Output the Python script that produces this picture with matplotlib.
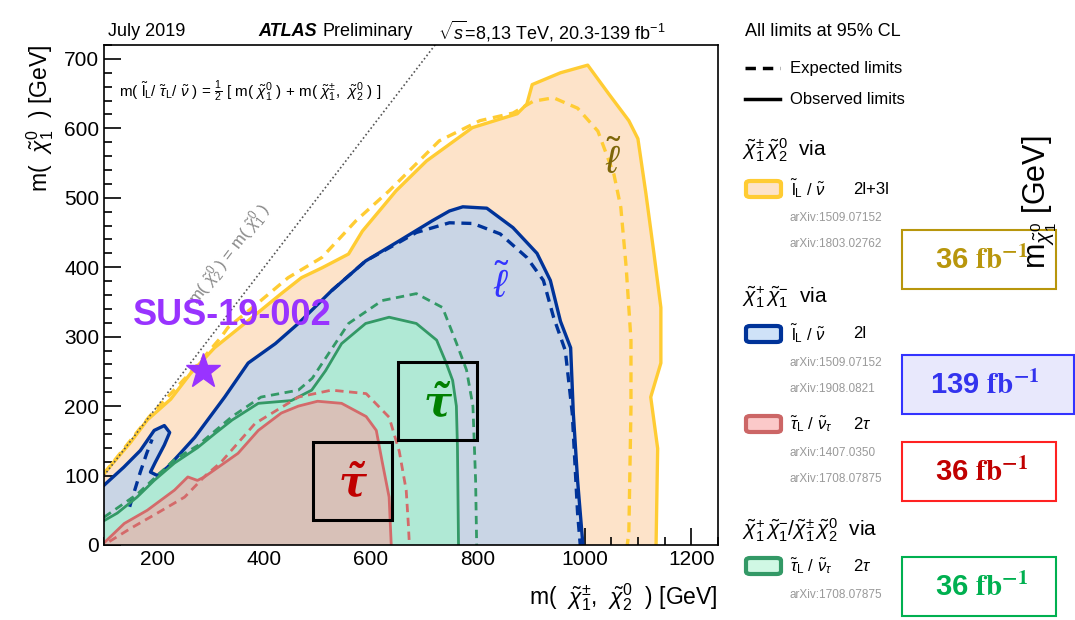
import numpy as np
import matplotlib
matplotlib.use("Agg")
import matplotlib.pyplot as plt
from matplotlib.patches import Rectangle, FancyBboxPatch
from matplotlib.lines import Line2D

plt.rcParams['font.family'] = ['Liberation Sans', 'DejaVu Sans']
plt.rcParams['mathtext.fontset'] = 'custom'
plt.rcParams['mathtext.rm'] = 'Liberation Sans'
plt.rcParams['mathtext.it'] = 'Liberation Sans:italic'
plt.rcParams['mathtext.bf'] = 'Liberation Sans:bold'

# ---- contour data, m(chi1pm/chi20) vs m(chi10) in GeV ----
# 2l+3l (yellow), 36 fb-1
yel_obs_x = [100, 149, 181, 225, 262, 307, 370, 432, 470, 508, 558, 584, 621, 647, 704, 790, 874, 892, 902, 955,
             1006, 1045, 1083, 1100, 1115, 1130, 1143, 1143, 1124, 1137, 1134]
yel_obs_y = [103, 147, 180, 210, 247, 284, 323, 362, 385, 399, 419, 452, 486, 510, 553, 601, 621, 635, 663, 680,
             691, 650, 611, 585, 506, 420, 342, 262, 213, 139, 0]
yel_exp_x = [100, 149, 185, 230, 270, 319, 332, 383, 445, 508, 572, 634, 728, 804, 866, 904, 942, 987, 1025, 1055,
             1068, 1078, 1087, 1087, 1083, 1080]
yel_exp_y = [103, 150, 185, 222, 255, 299, 313, 345, 385, 414, 467, 510, 582, 611, 622, 639, 644, 629, 596, 534,
             486, 400, 295, 198, 17, 0]

# 2l (blue), 139 fb-1
blu_obs_x = [100, 137, 168, 194, 213, 223, 213, 196, 187, 200, 219, 243, 270, 326, 370, 421, 464, 526, 590, 653,
             715, 747, 772, 817, 866, 911, 936, 955, 974, 979, 987, 997]
blu_obs_y = [86, 112, 136, 165, 172, 162, 144, 119, 105, 100, 112, 132, 155, 213, 262, 290, 319, 366, 409, 438,
             467, 481, 487, 485, 457, 420, 381, 322, 284, 190, 93, 0]
blu_exp_x = [526, 590, 653, 685, 747, 791, 842, 892, 923, 942, 964, 977, 987, 992]
blu_exp_y = [366, 409, 436, 450, 464, 463, 448, 414, 381, 328, 280, 190, 46, 0]
blu_exp2_x = [148, 158, 168, 180, 190]
blu_exp2_y = [55, 80, 105, 132, 152]

# 2tau chargino-neutralino (green), 36 fb-1
grn_obs_x = [100, 125, 162, 194, 232, 275, 307, 340, 389, 451, 489, 515, 545, 590, 634, 685, 723, 741, 753, 760,
             762, 764]
grn_obs_y = [35, 46, 69, 93, 118, 140, 160, 180, 204, 208, 223, 251, 290, 319, 328, 319, 295, 262, 237, 200,
             141, 0]
grn_exp_x = [100, 162, 232, 275, 340, 394, 464, 490, 521, 558, 621, 685, 734, 760, 779, 791, 796, 798]
grn_exp_y = [40, 73, 123, 143, 185, 213, 223, 240, 276, 319, 352, 362, 342, 291, 252, 200, 93, 0]

# 2tau chargino pair (red), 36 fb-1
red_obs_x = [100, 138, 181, 232, 257, 275, 288, 351, 389, 432, 464, 500, 545, 591, 610, 621, 634, 638]
red_obs_y = [3, 31, 50, 79, 98, 93, 98, 132, 165, 190, 200, 207, 204, 185, 165, 120, 69, 0]
red_exp_x = [110, 150, 200, 251, 290, 319, 383, 464, 526, 591, 634, 653, 666, 670, 672]
red_exp_y = [5, 24, 46, 69, 100, 119, 175, 213, 223, 218, 184, 135, 79, 30, 0]

sus_point = (285, 251)

W, H = 1075, 620
fig = plt.figure(figsize=(W / 100, H / 100), dpi=100)
ax = fig.add_axes([104 / W, 75 / H, 614 / W, 500 / H])


def ftext(x, y, s, **kw):
    return fig.text(x / W, 1 - y / H, s, **kw)


layers = [
    (yel_obs_x, yel_obs_y, yel_exp_x, yel_exp_y, '#fde3c9', '#ffcc33', 2.4),
    (blu_obs_x, blu_obs_y, blu_exp_x, blu_exp_y, '#c9d5e5', '#003399', 2.4),
    (grn_obs_x, grn_obs_y, grn_exp_x, grn_exp_y, '#b0e9d5', '#339966', 2.0),
    (red_obs_x, red_obs_y, red_exp_x, red_exp_y, '#d8c1b8', '#d46a6a', 2.0),
]
for i, (ox, oy, ex, ey, fc, lc, lw) in enumerate(layers):
    ox = np.asarray(ox)
    oy = np.asarray(oy)
    ax.fill(np.r_[ox, ox[0]], np.r_[oy, 0], color=fc, lw=0, zorder=1 + i)
for i, (ox, oy, ex, ey, fc, lc, lw) in enumerate(layers):
    ax.plot(ex, ey, color=lc, lw=lw, ls=(0, (3, 2)), zorder=10 + i)
    ax.plot(ox, oy, color=lc, lw=lw, zorder=10 + i)
ax.plot(blu_exp2_x, blu_exp2_y, color='#003399', lw=2.4, ls=(0, (3, 2)), zorder=11)

# diagonal m(chi20) = m(chi10)
diag = np.array([100, 730])
ax.plot(diag, diag, ls=(0, (1, 1.5)), color='#555555', lw=1.2, zorder=20)

ax.set_xlim(100, 1250)
ax.set_ylim(0, 720)
ax.set_xticks([200, 400, 600, 800, 1000, 1200])
ax.set_xticks(np.arange(100, 1251, 50), minor=True)
ax.set_yticks(np.arange(0, 701, 100))
ax.set_yticks(np.arange(0, 721, 20), minor=True)
ax.tick_params(which='both', direction='in', top=False, right=False, labelsize=15, width=1.2)
ax.tick_params(which='major', length=12)
ax.tick_params(which='minor', length=6)
for s in ax.spines.values():
    s.set_linewidth(1.2)
    s.set_zorder(30)

ax.set_xlabel(r'm(  $\tilde{\chi}_1^{\pm}$,  $\tilde{\chi}_2^0$  ) [GeV]', fontsize=16.5, loc='right', labelpad=9)
ax.set_ylabel(r'm(  $\tilde{\chi}_1^0$  ) [GeV]', fontsize=16.5, loc='top', labelpad=6)

# annotations in the plot
ax.text(128, 653, r'm( $\tilde{\mathrm{l}}_\mathrm{L}$/ $\tilde{\tau}_\mathrm{L}$/ $\tilde{\nu}$ ) = $\frac{1}{2}$ [ m( $\tilde{\chi}_1^0$ ) + m( $\tilde{\chi}_1^{\pm}$,  $\tilde{\chi}_2^0$ ) ]',
        fontsize=11, va='center', zorder=25)
ax.text(336, 418, r'm( $\tilde{\chi}_2^0$ ) = m( $\tilde{\chi}_1^0$ )', fontsize=12, color='#888888',
        rotation=52.7, rotation_mode='anchor', ha='center', va='center', zorder=25)
ax.text(154, 330, 'SUS-19-002', fontsize=26, fontweight='bold', color='#9933ff', va='center', zorder=26)
ax.plot(*sus_point, marker='*', ms=26, color='#9933ff', mec='#9933ff', zorder=26)
ax.text(1055, 553, r'$\tilde{\ell}$', fontsize=28, color='#7d6608', ha='center', va='center', zorder=25)
ax.text(845, 375, r'$\tilde{\ell}$', fontsize=28, color='#3333ff', ha='center', va='center', zorder=25)

tau = '\u03c4\u0303'
ax.add_patch(Rectangle((492, 36), 148, 113, fill=False, ec='black', lw=2.2, zorder=25))
ax.text(566, 88, tau, fontsize=30, color='#c00000', ha='center', va='center', family='DejaVu Serif',
        fontweight='bold', fontstyle='italic', zorder=25)
ax.add_patch(Rectangle((651, 151), 147, 112, fill=False, ec='black', lw=2.2, zorder=25))
ax.text(724, 203, tau, fontsize=30, color='#008000', ha='center', va='center', family='DejaVu Serif',
        fontweight='bold', fontstyle='italic', zorder=25)

# header
ftext(108, 31, 'July 2019', fontsize=13, va='center')
ftext(258, 31, 'ATLAS', fontsize=13, fontweight='bold', fontstyle='italic', va='center')
ftext(322, 31, 'Preliminary', fontsize=13, va='center')
ftext(438, 31, r'$\sqrt{s}$=8,13 TeV, 20.3-139 fb$^{-1}$', fontsize=13, va='center')

# legend on the right
ftext(745, 32, 'All limits at 95% CL', fontsize=13, va='center')
fig.add_artist(Line2D([745 / W, 780 / W], [1 - 68 / H] * 2, color='black', lw=2.5, ls=(0, (3, 2))))
ftext(790, 68, 'Expected limits', fontsize=12, va='center')
fig.add_artist(Line2D([745 / W, 780 / W], [1 - 99 / H] * 2, color='black', lw=2.5))
ftext(790, 99, 'Observed limits', fontsize=12, va='center')

lab_l = r'$\tilde{\mathrm{l}}_\mathrm{L}$ / $\tilde{\nu}$'
lab_t = r'$\tilde{\tau}_\mathrm{L}$ / $\tilde{\nu}_{\tau}$'
group_titles = [
    (150, r'$\tilde{\chi}_1^{\pm}\,\tilde{\chi}_2^0$  via'),
    (297, r'$\tilde{\chi}_1^{+}\,\tilde{\chi}_1^{-}$  via'),
    (530, r'$\tilde{\chi}_1^{+}\,\tilde{\chi}_1^{-}$/$\tilde{\chi}_1^{\pm}\,\tilde{\chi}_2^0$  via'),
]
for y, s in group_titles:
    ftext(742, y, s, fontsize=15, va='center')

entries = [
    (189, '#fde3c9', '#ffcc33', lab_l, '2l+3l', ['arXiv:1509.07152', 'arXiv:1803.02762']),
    (334, '#cfe2f8', '#003399', lab_l, '2l', ['arXiv:1509.07152', 'arXiv:1908.0821']),
    (424, '#fbc9c9', '#cc6666', lab_t, r'2$\tau$', ['arXiv:1407.0350', 'arXiv:1708.07875']),
    (566, '#d0f8e4', '#339966', lab_t, r'2$\tau$', ['arXiv:1708.07875']),
]
for y, fc, ec, lab, chan, refs in entries:
    fig.add_artist(FancyBboxPatch((746 / W, 1 - (y + 8) / H), 35 / W, 16 / H,
                                  boxstyle='round,pad=0,rounding_size=0.004', fc=fc, ec=ec, lw=3,
                                  transform=fig.transFigure))
    ftext(790, y, lab, fontsize=12, va='center')
    ftext(853, y, chan, fontsize=12, va='center')
    for k, r in enumerate(refs):
        ftext(790, y + 29 + 26.5 * k, r, fontsize=8.5, color='#999999', va='center')

# luminosity boxes
lumi = [
    (230, 1056, 289, '#b8960c', 'none', '36'),
    (355, 1074, 414, '#3333ff', '#e8e8fc', '139'),
    (442, 1056, 501, '#ff2222', 'none', '36'),
    (557, 1056, 616, '#00b050', 'none', '36'),
]
txt_col = ['#b8960c', '#3333ee', '#c00000', '#00b050']
for (y0, x1, y1, ec, fc, num), tc in zip(lumi, txt_col):
    fig.add_artist(Rectangle((902 / W, 1 - y1 / H), (x1 - 902) / W, (y1 - y0) / H, fc=fc, ec=ec, lw=1.5,
                             transform=fig.transFigure))
    ftext(982 if x1 < 1060 else 985, (y0 + y1) / 2 + 1, num + r' $\mathbf{fb^{-1}}$', fontsize=21,
          fontweight='bold', color=tc, ha='center', va='center', math_fontfamily='stix')

ftext(1040, 202, r'm$_{\tilde{\chi}_1^0}$ [GeV]', fontsize=22, rotation=90, ha='center', va='center')

fig.savefig('out.png', dpi=100)
